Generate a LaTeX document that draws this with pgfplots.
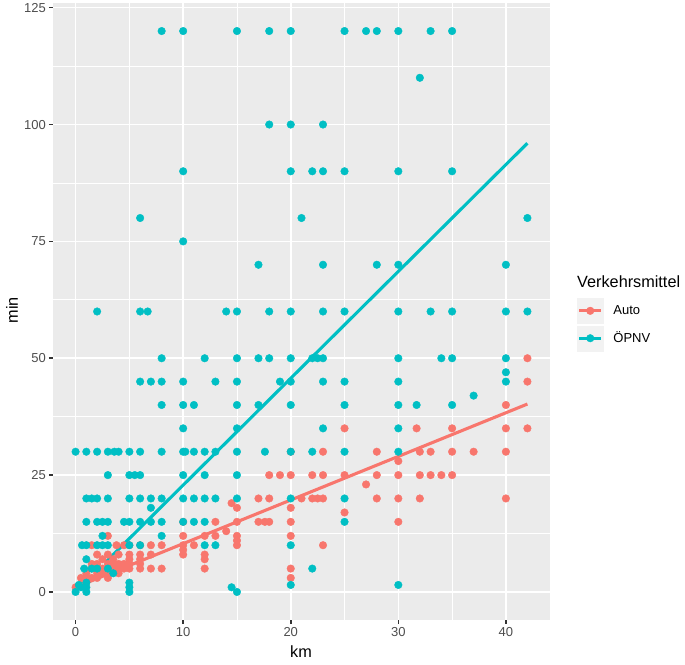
\documentclass[border=0pt]{standalone}
\usepackage{fontspec}
\setmainfont{Liberation Sans}
\usepackage{pgfplots}
\usepackage{pgfplotstable}
\pgfplotsset{compat=1.18}
\definecolor{cAuto}{HTML}{F8766D}
\definecolor{cOepnv}{HTML}{00BFC4}
\definecolor{panelbg}{HTML}{EBEBEB}
\definecolor{tickc}{HTML}{4D4D4D}
\definecolor{tickm}{HTML}{333333}
\definecolor{keybg}{HTML}{F2F2F2}

\pgfplotstableread{
x y
0 0
0.3 1.5
0.5 1
1 0
1 1
1 2
0.8 5
1.5 5
2 5
3 5
3.5 4
1 7
0.6 10
1 10
2 10
2.5 10
3 10
5 10
6 10
12 10
13 10
20 10
2.5 12
8 12
1 15
2 15
2.5 15
3 15
4.5 15
5 15
6 15
7 15
8 15
10 15
11 15
12 15
25 15
7 18
1 20
1.5 20
2 20
3 20
5 20
6 20
7 20
8 20
10 20
11 20
12 20
13 20
15 20
20 20
25 20
3 25
5 25
5.5 25
6 25
10 25
12 25
15 25
0 30
1 30
2 30
3 30
3.6 30
4 30
5 30
6 30
8 30
10 30
10.2 30
11 30
12 30
13 30
15 30
17.6 30
20 30
22 30
25 30
30 30
10 35
15 35
23 35
30 35
8 40
10 40
11 40
15 40
17 40
20 40
25 40
30 40
31.7 40
35 40
37 42
6 45
7 45
8 45
10 45
13 45
15 45
19 45
20 45
23 45
25 45
30 45
40 45
40 47
8 50
12 50
15 50
17 50
18 50
20 50
22 50
22.5 50
23 50
30 50
34 50
35 50
40 50
2 60
6 60
6.7 60
14 60
15 60
18 60
20 60
23 60
25 60
30 60
33 60
35 60
40 60
42 60
17 70
23 70
28 70
30 70
40 70
10 75
6 80
21 80
42 80
10 90
20 90
22 90
23 90
25 90
30 90
35 90
18 100
20 100
23 100
32 110
8 120
10 120
15 120
18 120
20 120
25 120
27 120
28 120
30 120
33 120
35 120
5 0
5 1
5 2
14.5 1
15 0
20 1.5
30 1.5
22 5
}\oepnvdata

\pgfplotstableread{
x y
0 1
0.5 1.5
0.5 3
1 2
1 3
1 4
1.5 3
1.5 5
1.5 6
2 3
2 4
2 5
2 6
2 8
2.5 4
2.5 5
2.5 7
3 3
3 4
3 5
3 6
3 8
3.5 5
3.5 6
3.5 7
4 4
4 5
4 6
4 8
4.5 5
4.5 6
5 5
5 6
5 7
5 8
5 10
6 5
6 6
6 7
6 8
6 10
7 5
7 8
7 10
8 5
8 10
4.5 10
3.8 10
1.5 10
3 12
10 15
13 15
15 15
17 15
17.6 15
18 15
20 15
30 15
10 12
12 12
13 12
15 12
20 12
14 13
15 11
10 10
11 10
15 10
23 10
10 9
10 8
12 8
12 7
12 5
20 5
20 3
14.5 19
15 18
20 18
25 17
17 20
18 20
21 20
22 20
22.5 20
23 20
28 20
30 20
32 20
40 20
27 23
18 25
19 25
20 25
22 25
23 25
25 25
28 25
30 25
32 25
33 25
34 25
35 25
30 28
20 30
23 30
28 30
32 30
33 30
35 30
37 30
40 30
25 35
31.7 35
35 35
40 35
42 35
40 40
42 45
42 50
}\autodata

\begin{document}
\begin{tikzpicture}[x=1pt,y=1pt]
\path[use as bounding box] (0,0) rectangle (685,664);
\begin{axis}[
  at={(53pt,44pt)}, anchor=south west,
  scale only axis, width=497pt, height=617pt,
  xmin=-2.1, xmax=44.1, ymin=-6, ymax=126,
  axis background/.style={fill=panelbg},
  axis line style={draw=none},
  xtick={0,10,20,30,40}, ytick={0,25,50,75,100,125},
  minor xtick={5,15,25,35}, minor ytick={12.5,37.5,62.5,87.5,112.5},
  grid=both,
  major grid style={white, line width=1.57pt},
  minor grid style={white, line width=0.78pt},
  tick align=outside, tick pos=left,
  major tick length=4.05pt, minor tick length=0pt,
  major tick style={tickm, line width=1.57pt},
  /pgf/number format/assume math mode=true,
  ticklabel style={font=\fontsize{13}{15}\selectfont, text=tickc},
  xticklabel style={inner sep=0pt, yshift=-3pt},
  yticklabel style={inner sep=0pt, xshift=-3pt},
  xlabel={km}, ylabel={min},
  label style={font=\fontsize{16.25}{19}\selectfont},
  xlabel style={at={(axis description cs:0.499,-0.052)}, anchor=center},
  ylabel style={at={(axis description cs:-0.0825,0.502)}, anchor=center},
  legend style={at={(axis description cs:1.054,0.522)}, anchor=north west,
    draw=none, fill=none, inner sep=0pt, row sep=2pt, column sep=10pt,
    nodes={inner sep=0pt}, font=\fontsize{13}{15}\selectfont},
  legend cell align=left,
]
\addplot[only marks, mark=*, mark size=3.8pt, cAuto, forget plot] table[x=x,y=y] {\autodata};
\addplot[only marks, mark=*, mark size=3.8pt, cOepnv, forget plot] table[x=x,y=y] {\oepnvdata};
\addplot[cOepnv, line width=3.1pt, forget plot] coordinates {(2.8,6.4) (42,96)};
\addplot[cAuto, line width=3.1pt, forget plot] coordinates {(0,1.0) (42,40.2)};
\addlegendimage{legend image code/.code={
  \fill[keybg] (0pt,-12.5pt) rectangle (26pt,12.5pt);
  \draw[cAuto, line width=3.1pt] (2pt,0pt) -- (24pt,0pt);
  \fill[cAuto] (13pt,0pt) circle (3.8pt);}}
\addlegendentry{Auto}
\addlegendimage{legend image code/.code={
  \fill[keybg] (0pt,-12.5pt) rectangle (26pt,12.5pt);
  \draw[cOepnv, line width=3.1pt] (2pt,0pt) -- (24pt,0pt);
  \fill[cOepnv] (13pt,0pt) circle (3.8pt);}}
\addlegendentry{ÖPNV}
\end{axis}
\node[anchor=base west, font=\fontsize{16.25}{19}\selectfont, inner sep=0pt] at (577,376) {Verkehrsmittel};
\end{tikzpicture}
\end{document}
